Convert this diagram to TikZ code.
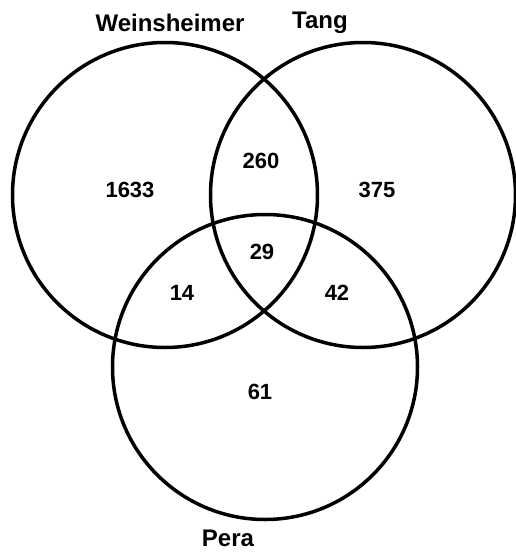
\documentclass[tikz,border=0pt]{standalone}
\usepackage{fontspec}
\setmainfont{Liberation Sans}
\usepackage{tikz}
\usetikzlibrary{positioning,calc}
\tikzset{
	every node/.style={font=\bfseries\fontsize{22}{22}\selectfont},
	set node/.style={circle,draw,line width=3.5pt,minimum size=305pt,inner sep=0pt},
	count node/.style={inner sep=0pt},
	name node/.style={inner sep=0pt,font=\bfseries\fontsize{24}{24}\selectfont}
}

\begin{document}
\begin{tikzpicture}[x=1pt,y=-1pt]
      \useasboundingbox (0,0) rectangle (515,552);
      \node[set node] (wein) at (165,195) {};
      \node[set node] (tang) at (363,195) {};
      \node[set node] (pera) at (265,367) {};
      \node[name node] (weinname) at (170,23) {Weinsheimer};
      \node[name node] (tangname) at (320,23) {Tang};
      \node[name node] (peraname) at (228,538) {Pera};
      \node[count node] (onlywein) at (130,190) {1633};
      \node[count node] (weintang) at (261,161) {260};
      \node[count node] (onlytang) at (377,190) {375};
      \node[count node] (all) at (262,252) {29};
      \node[count node] (weinpera) at (182,293) {14};
      \node[count node] (tangpera) at (337,293) {42};
      \node[count node] (onlypera) at (260,392) {61};
\end{tikzpicture}
\end{document}
